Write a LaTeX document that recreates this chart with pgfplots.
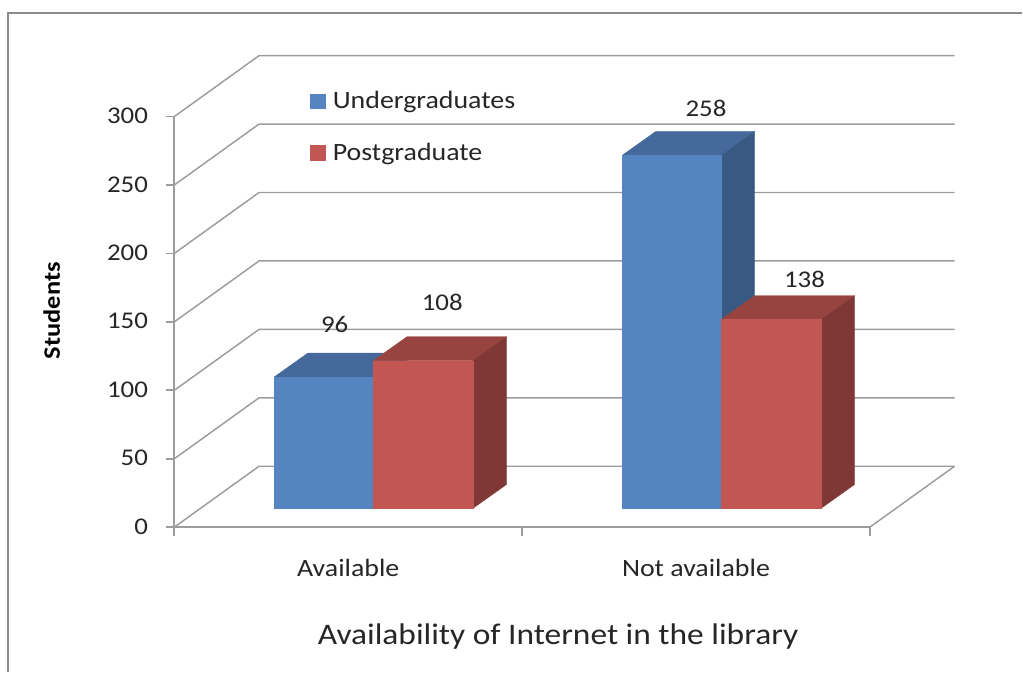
\documentclass[border=0pt]{standalone}
\usepackage{fontspec}
\setmainfont[FakeStretch=1.12]{Carlito}
\usepackage{pgfplots}
\pgfplotsset{compat=1.18}

\definecolor{ugFront}{HTML}{5585C1}
\definecolor{ugTop}{HTML}{44699A}
\definecolor{ugSide}{HTML}{385A82}
\definecolor{pgFront}{HTML}{C25653}
\definecolor{pgTop}{HTML}{974440}
\definecolor{pgSide}{HTML}{803836}
\definecolor{wallGrey}{HTML}{9C9C9C}
\definecolor{frameGrey}{HTML}{8C8C8C}
\definecolor{inkGrey}{HTML}{262626}

% Depth of the back wall and of the bars, in data units
\newcommand{\wallDX}{0.2436}
\newcommand{\wallDY}{44.5}
\newcommand{\barDX}{0.0968}
\newcommand{\barDY}{17.5}

% One gridline: up the side wall, then along the back wall
\newcommand{\wallLine}[1]{%
  \pgfmathsetmacro{\ya}{#1+\wallDY}%
  \addplot[wallGrey, line width=1.1pt, forget plot]
    coordinates {(0,#1) (\wallDX,\ya) (2.2436,\ya)};
}

% One block: xleft, xright, value, colour prefix
\newcommand{\block}[4]{%
  \pgfmathsetmacro{\xa}{#1+\barDX}%
  \pgfmathsetmacro{\xb}{#2+\barDX}%
  \pgfmathsetmacro{\yb}{#3+\barDY}%
  \addplot[fill=#4Top, draw=#4Top, line width=0.2pt, forget plot]
    coordinates {(#1,#3) (#2,#3) (\xb,\yb) (\xa,\yb) (#1,#3)};
  \addplot[fill=#4Side, draw=#4Side, line width=0.2pt, forget plot]
    coordinates {(#2,0) (\xb,\barDY) (\xb,\yb) (#2,#3) (#2,0)};
  \addplot[fill=#4Front, draw=#4Front, line width=0.2pt, forget plot]
    coordinates {(#1,0) (#2,0) (#2,#3) (#1,#3) (#1,0)};
}

\begin{document}
\begin{tikzpicture}[x=0.75pt, y=0.75pt, font=\fontsize{18}{20}\selectfont]
  \path (0,0) rectangle (1023,673);
  \draw[frameGrey, line width=1.5pt] (8.5,0) -- (8.5,659.5) -- (1023,659.5);

  % Walls, floor and axes
  \begin{axis}[
    at={(130.875pt,109pt)}, anchor=south west,
    scale only axis, width=522.15pt, height=308.25pt,
    xmin=0, xmax=2, ymin=0, ymax=300,
    clip=false,
    axis x line*=bottom, axis y line*=left,
    every non boxed x axis/.append style={x axis line style=-},
    every non boxed y axis/.append style={y axis line style=-},
    axis line style={wallGrey, line width=1.4pt},
    tick style={wallGrey, line width=1.3pt},
    tick align=outside,
    major tick length=6.3pt,
    ytick={0,50,...,300},
    xtick={0,1,2}, xticklabels={},
    extra x ticks={0.5,1.5},
    extra x tick labels={Available,Not available},
    extra x tick style={major tick length=0pt},
    xticklabel style={font=\fontsize{18.7}{20}\selectfont, text=inkGrey, yshift=-20.5pt},
    yticklabel style={text=inkGrey, xshift=-10pt, yshift=0.5pt},
    /pgf/number format/assume math mode=true,
    ylabel={\textbf{Students}},
    ylabel style={font=\fontsize{17.7}{20}\selectfont, text=black, at={(axis description cs:0,0.527)}, anchor=center, yshift=92pt},
    xlabel={Availability of Internet in the library},
    xlabel style={font=\fontsize{22.4}{24}\selectfont, text=inkGrey, at={(axis description cs:0.5,0)}, anchor=center, xshift=27pt, yshift=-82pt},
  ]
    \wallLine{0}
    \wallLine{50}
    \wallLine{100}
    \wallLine{150}
    \wallLine{200}
    \wallLine{250}
    \wallLine{300}
    \addplot[wallGrey, line width=1.1pt, forget plot]
      coordinates {(2,0) (2.2436,44.5)};
  \end{axis}

  % Blocks stand on a base slightly in front of the wall's origin
  \begin{axis}[
    at={(130.875pt,109pt)}, anchor=south west,
    scale only axis, width=522.15pt, height=308.25pt,
    xmin=0, xmax=2, ymin=-13.65, ymax=286.35,
    clip=false, hide axis,
    legend style={
      at={(rel axis cs:0.1955,1.061)}, anchor=north west,
      draw=none, fill=none, inner sep=0pt, outer sep=0pt,
      font=\fontsize{18.7}{20}\selectfont, text=inkGrey,
      row sep=24.5pt,
      nodes={inner sep=0pt, outer sep=0pt},
      /tikz/every odd column/.append style={column sep=5.5pt},
    },
    legend cell align=left,
    legend image code/.code={
      \fill[#1] (0pt,-5.5pt) rectangle (11pt,5.5pt);
    },
  ]
    \block{0.2867}{0.5722}{96}{ug}
    \block{0.5722}{0.8584}{108}{pg}
    \block{1.2876}{1.5720}{258}{ug}
    \block{1.5720}{1.8593}{138}{pg}
    \addlegendimage{ugFront}
    \addlegendentry{Undergraduates}
    \addlegendimage{pgFront}
    \addlegendentry{Postgraduate}
  \end{axis}

  % Value labels
  \node[text=inkGrey] at (335,348) {96};
  \node[text=inkGrey] at (442.7,370.3) {108};
  \node[text=inkGrey] at (706.7,564.3) {258};
  \node[text=inkGrey] at (805.3,393.7) {138};
\end{tikzpicture}
\end{document}
